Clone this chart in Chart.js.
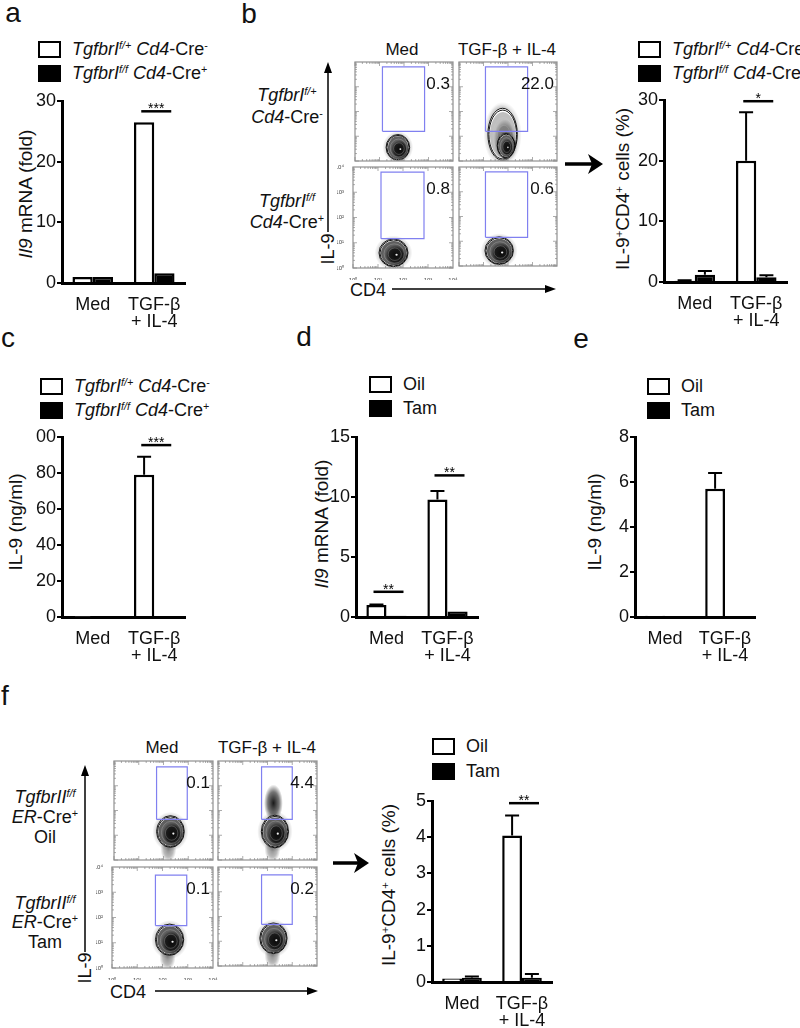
<!DOCTYPE html>
<html lang="en">
<head>
<meta charset="UTF-8">
<title>IL-9 and TGF-β receptor figure</title>
<script src="https://cdn.jsdelivr.net/npm/chart.js"></script>
<style>
  body { margin: 0; background: #fff; }
  #fig { position: relative; width: 800px; height: 1028px; overflow: hidden;
         font-family: "Liberation Sans", Arial, sans-serif; color: #111; }
  #fig canvas { position: absolute; }
  .t { position: absolute; white-space: nowrap; line-height: 1; font-size: 17px; }
  .t sup { font-size: .6em; position: relative; top: -.55em; vertical-align: baseline; line-height: 0; }
  .box { position: absolute; box-sizing: border-box; border: 2px solid #000; width: 23px; height: 17px; }
  svg { position: absolute; left: 0; top: 0; }
</style>
</head>
<body>
<div id="fig">
  <svg width="800" height="1028">
    <g stroke="#000" fill="none">
      <line x1="328" y1="232" x2="328" y2="70" stroke-width="1.5"/>
      <line x1="392" y1="289" x2="548" y2="289" stroke-width="1.5"/>
      <line x1="565" y1="164" x2="594" y2="164" stroke-width="3.5"/>
      <line x1="85" y1="952" x2="85" y2="773" stroke-width="1.5"/>
      <line x1="155" y1="991" x2="310" y2="991" stroke-width="1.5"/>
      <line x1="333" y1="863" x2="360" y2="863" stroke-width="3.5"/>
    </g>
    <g fill="#000">
      <polygon points="328,62 324,73 332,73"/>
      <polygon points="556,289 545,285 545,293"/>
      <polygon points="603,164 588,154 592,164 588,174"/>
      <polygon points="85,765 81,776 89,776"/>
      <polygon points="318,991 307,987 307,995"/>
      <polygon points="369,863 354,853 358,863 354,873"/>
    </g>
  </svg>
</div>
<script>
  Chart.defaults.font.family = '"Liberation Sans", Arial, sans-serif';
  Chart.defaults.color = '#111';

  // ---------- bar chart data ----------
  const groups = ['Med', ['TGF-β', '+ IL-4']];

  // a: Il9 mRNA (fold)
  const aCtrl = [1.0, 26.5];
  const aKO = [1.0, 1.6];
  const aTicks = [0, 10, 20, 30];
  const aSig = [[1, 28.3, '***']];

  // b: IL-9+CD4+ cells (%)
  const bCtrl = [0.2, 20.0];
  const bKO = [1.2, 0.8];
  const bCtrlErr = [0.3, 28.0];
  const bKOErr = [1.8, 1.1];
  const bTicks = [0, 10, 20, 30];
  const bSig = [[1, 29.8, '*']];

  // c: IL-9 (ng/ml)
  const cCtrl = [0.3, 79];
  const cKO = [0.3, 0.3];
  const cCtrlErr = [null, 89];
  const cTicks = [0, 20, 40, 60, 80, 100];
  const cTickText = ['0', '20', '40', '60', '80', '00'];
  const cSig = [[1, 95.5, '***']];

  // d: Il9 mRNA (fold), oil vs tamoxifen
  const dOil = [1.0, 9.8];
  const dTam = [0.1, 0.45];
  const dOilErr = [1.05, 10.5];
  const dTicks = [0, 5, 10, 15];
  const dSig = [[0, 2.1, '**'], [1, 11.8, '**']];

  // e: IL-9 (ng/ml), oil vs tamoxifen
  const eOil = [0.06, 5.7];
  const eTam = [0.02, 0.02];
  const eOilErr = [null, 6.4];
  const eTicks = [0, 2, 4, 6, 8];

  // f: IL-9+CD4+ cells (%), oil vs tamoxifen
  const fOil = [0.1, 4.05];
  const fTam = [0.12, 0.12];
  const fOilErr = [null, 4.6];
  const fTamErr = [0.15, 0.22];
  const fTicks = [0, 1, 2, 3, 4, 5];
  const fSig = [[1, 4.94, '**']];

  // ---------- flow plot data (log10 units) ----------
  const decades = [0, 1, 2, 3, 4];
  const decadeText = ['10⁰', '10¹', '10²', '10³', '10⁴'];
  // gate: [CD4 from, CD4 to, IL-9 from, IL-9 to]
  // population: [CD4 centre, IL-9 centre, CD4 spread, IL-9 spread, kind, shade]
  const bGate = [[1.12, 2.84, 1.2, 3.8], [1.08, 2.8, 1.2, 3.8], [1.12, 2.84, 1.16, 3.8], [1.08, 2.8, 1.16, 3.8]];
  const bPct = ['0.3', '22.0', '0.8', '0.6'];
  const bPops = [
    [[1.75, 0.55, 0.48, 0.52, 'c', 1]],
    [[1.72, 1.5, 0.55, 0.8, 'h', 0.3], [1.78, 1.08, 0.6, 1.05, 'c', 0.4], [1.92, 0.62, 0.36, 0.5, 'c', 1]],
    [[1.62, 0.6, 0.58, 0.55, 'c', 1]],
    [[1.64, 0.62, 0.58, 0.56, 'c', 1]]
  ];
  const fGate = [[1.72, 2.96, 1.64, 3.76], [1.76, 3.0, 1.64, 3.76], [1.72, 2.96, 1.68, 3.68], [1.76, 3.0, 1.68, 3.68]];
  const fPct = ['0.1', '4.4', '0.1', '0.2'];
  const fPops = [
    [[2.2, 0.45, 0.32, 0.55, 'h', 0.45], [2.28, 1.15, 0.56, 0.64, 'c', 1]],
    [[2.24, 2.3, 0.38, 0.75, 'h', 0.9], [2.2, 0.45, 0.32, 0.55, 'h', 0.45], [2.3, 1.15, 0.55, 0.66, 'c', 1]],
    [[2.2, 0.45, 0.32, 0.55, 'h', 0.45], [2.28, 1.12, 0.56, 0.62, 'c', 1]],
    [[2.2, 0.45, 0.32, 0.55, 'h', 0.45], [2.24, 1.12, 0.55, 0.62, 'c', 1]]
  ];

  const fig = document.getElementById('fig');

  function addCanvas(x, y, w, h) {
    const cv = document.createElement('canvas');
    cv.width = w; cv.height = h;
    cv.style.left = x + 'px'; cv.style.top = y + 'px';
    fig.appendChild(cv);
    return cv;
  }

  function put(html, x, y, opt) {
    opt = opt || {};
    const d = document.createElement('div');
    d.className = 't';
    d.innerHTML = html;
    d.style.left = x + 'px'; d.style.top = y + 'px';
    if (opt.size) d.style.fontSize = opt.size + 'px';
    if (opt.rot) d.style.transform = 'translate(-50%,-50%) rotate(-90deg)';
    else if (opt.left) d.style.transform = 'translate(0,-50%)';
    else d.style.transform = 'translate(-50%,-50%)';
    fig.appendChild(d);
  }

  function legend(x, y1, y2, textW, textB) {
    [[y1, '#fff', textW], [y2, '#000', textB]].forEach(([y, bg, txt]) => {
      const b = document.createElement('div');
      b.className = 'box';
      b.style.left = x + 'px'; b.style.top = (y - 8) + 'px'; b.style.background = bg;
      fig.appendChild(b);
      put(txt, x + 34, y, { left: true, size: 18 });
    });
  }

  // error bars and significance lines
  function barExtras(errs, sig) {
    return {
      id: 'barExtras',
      afterDatasetsDraw(chart) {
        const ctx = chart.ctx, ys = chart.scales.y, xs = chart.scales.x;
        ctx.save();
        ctx.strokeStyle = '#000'; ctx.lineWidth = 2;
        errs.forEach((arr, di) => {
          const meta = chart.getDatasetMeta(di);
          arr.forEach((v, j) => {
            if (v == null) return;
            const bar = meta.data[j];
            const top = ys.getPixelForValue(v);
            ctx.beginPath();
            ctx.moveTo(bar.x, bar.y); ctx.lineTo(bar.x, top);
            ctx.moveTo(bar.x - 7, top); ctx.lineTo(bar.x + 7, top);
            ctx.stroke();
          });
        });
        ctx.fillStyle = '#000';
        ctx.font = '14px "Liberation Sans", Arial, sans-serif';
        ctx.textAlign = 'center'; ctx.textBaseline = 'alphabetic';
        ctx.lineWidth = 2.5;
        sig.forEach(([cat, v, txt]) => {
          const x = xs.getPixelForValue(cat), y = ys.getPixelForValue(v);
          ctx.beginPath(); ctx.moveTo(x - 13, y); ctx.lineTo(x + 17, y); ctx.stroke();
          ctx.fillText(txt, x + 2, y + 2);
        });
        ctx.restore();
      }
    };
  }

  function barChart(area, series, errs, ticks, tickText, sig) {
    const YW = 46, XH = 46, PT = 14, PR = 16;
    const cv = addCanvas(area.x - YW, area.y - PT, YW + area.w + PR, PT + area.h + XH);
    new Chart(cv, {
      type: 'bar',
      data: {
        labels: groups,
        datasets: series.map((v, i) => ({
          data: v,
          backgroundColor: i ? '#000' : '#fff',
          borderColor: '#000',
          borderWidth: 2.5,
          barPercentage: 1,
          categoryPercentage: 0.66
        }))
      },
      options: {
        responsive: false,
        animation: false,
        events: [],
        layout: { padding: { top: PT, right: PR, left: 0, bottom: 0 } },
        plugins: { legend: { display: false }, tooltip: { enabled: false } },
        scales: {
          x: {
            grid: { display: false },
            border: { color: '#000', width: 3 },
            ticks: { font: { size: 18, lineHeight: 0.95 }, color: '#111', padding: 5, maxRotation: 0, autoSkip: false },
            afterFit: s => { s.height = XH; }
          },
          y: {
            min: 0,
            max: ticks[ticks.length - 1],
            afterBuildTicks: s => { s.ticks = ticks.map(v => ({ value: v })); },
            grid: { drawOnChartArea: false, tickLength: 5, color: '#000', lineWidth: 2 },
            border: { color: '#000', width: 3 },
            ticks: { font: { size: 18 }, color: '#111', padding: 1,
                     callback: (v, i) => tickText ? tickText[i] : String(v) },
            afterFit: s => { s.width = YW; }
          }
        }
      },
      plugins: [barExtras(errs, sig)]
    });
  }

  function ell(ctx, cx, cy, rx, ry) {
    ctx.beginPath();
    ctx.ellipse(cx, cy, Math.max(rx, 0.5), Math.max(ry, 0.5), 0, 0, Math.PI * 2);
  }

  function radial(ctx, px, py, rx, ry, stops) {
    ctx.save();
    ctx.translate(px, py); ctx.scale(rx, ry);
    const g = ctx.createRadialGradient(0, 0, 0, 0, 0, 1);
    stops.forEach(([o, c]) => g.addColorStop(o, c));
    ctx.fillStyle = g;
    ctx.beginPath(); ctx.arc(0, 0, 1, 0, Math.PI * 2); ctx.fill();
    ctx.restore();
  }

  function drawPop(ctx, xs, ys, p) {
    const [cx, cy, sx, sy, kind, shade] = p;
    const px = xs.getPixelForValue(cx), py = ys.getPixelForValue(cy);
    const rx = xs.getPixelForValue(cx + sx) - px;
    const ry = py - ys.getPixelForValue(cy + sy);
    if (kind === 'h') {
      radial(ctx, px, py, rx, ry, [[0, 'rgba(0,0,0,' + shade + ')'], [0.6, 'rgba(0,0,0,' + shade * 0.6 + ')'], [1, 'rgba(0,0,0,0)']]);
      return;
    }
    const ring = f => ell(ctx, px + (1 - f) * rx * 0.16, py + (1 - f) * ry * 0.18, rx * f, ry * f);
    // scattered events outside the outer contour
    radial(ctx, px, py, rx * 1.3, ry * 1.25, [[0.6, 'rgba(0,0,0,0.3)'], [1, 'rgba(0,0,0,0)']]);
    ctx.fillStyle = '#fff';
    ring(1); ctx.fill();
    // grey body and dense core
    ctx.fillStyle = 'rgba(95,95,95,' + shade + ')';
    ring(0.88); ctx.fill();
    const ox = px + rx * 0.16, oy = py + ry * 0.18;
    radial(ctx, ox, oy, rx * 0.75, ry * 0.75, [[0, 'rgba(10,10,10,' + shade + ')'], [0.65, 'rgba(20,20,20,' + shade * 0.9 + ')'], [1, 'rgba(40,40,40,0)']]);
    // contour lines
    ctx.strokeStyle = '#000'; ctx.lineWidth = 0.9;
    [1, 0.94].forEach(f => { ring(f); ctx.stroke(); });
    ctx.strokeStyle = 'rgba(210,210,210,' + (0.25 * shade + 0.2) + ')'; ctx.lineWidth = 0.6;
    [0.7, 0.45].forEach(f => { ring(f); ctx.stroke(); });
    if (shade > 0.8) {
      ctx.fillStyle = '#f4f4f4';
      ell(ctx, ox + rx * 0.05, oy - ry * 0.05, rx * 0.08, ry * 0.07); ctx.fill();
    }
  }

  function flowExtras(pops, pct) {
    return {
      id: 'flowExtras',
      beforeDatasetsDraw(chart) {
        const { ctx, chartArea: a, scales: { x, y } } = chart;
        ctx.save();
        ctx.beginPath(); ctx.rect(a.left, a.top, a.right - a.left, a.bottom - a.top); ctx.clip();
        pops.forEach(p => drawPop(ctx, x, y, p));
        ctx.restore();
      },
      afterDraw(chart) {
        const { ctx, chartArea: a, scales: { x, y } } = chart;
        ctx.save();
        ctx.strokeStyle = '#999'; ctx.lineWidth = 1.3;
        ctx.strokeRect(a.left, a.top, a.right - a.left, a.bottom - a.top);
        ctx.strokeStyle = '#888'; ctx.lineWidth = 0.7;
        ctx.beginPath();
        decades.slice(0, -1).forEach(d => {
          for (let m = 1; m < 10; m++) {
            const v = d + Math.log10(m), len = m === 1 ? 4 : 2;
            const px = x.getPixelForValue(v), py = y.getPixelForValue(v);
            ctx.moveTo(px, a.bottom); ctx.lineTo(px, a.bottom - len);
            ctx.moveTo(px, a.top); ctx.lineTo(px, a.top + len);
            ctx.moveTo(a.left, py); ctx.lineTo(a.left + len, py);
            ctx.moveTo(a.right, py); ctx.lineTo(a.right - len, py);
          }
        });
        ctx.stroke();
        ctx.fillStyle = '#111';
        ctx.font = '17px "Liberation Sans", Arial, sans-serif';
        ctx.textAlign = 'right'; ctx.textBaseline = 'alphabetic';
        ctx.fillText(pct, a.right - 3, a.top + 27);
        ctx.restore();
      }
    };
  }

  function flowPlot(fx, fy, fw, fh, axes, gate, pops, pct) {
    const L = axes ? 16 : 2, B = axes ? 12 : 2, T = 6, R = 8;
    const cv = addCanvas(fx - L, fy - T, L + fw + R, T + fh + B);
    const box = [[gate[0], gate[2]], [gate[0], gate[3]], [gate[1], gate[3]], [gate[1], gate[2]], [gate[0], gate[2]]]
      .map(([x, y]) => ({ x, y }));
    const axis = (isX) => ({
      type: 'linear', min: 0, max: 4, display: axes,
      afterBuildTicks: s => { s.ticks = decades.map(v => ({ value: v })); },
      grid: { display: false },
      border: { display: false },
      ticks: { font: { size: 6 }, color: '#444', padding: 1, maxRotation: 0,
               callback: v => decadeText[v] },
      afterFit: s => { if (isX) s.height = B; else s.width = L; }
    });
    new Chart(cv, {
      type: 'scatter',
      data: { datasets: [{ data: box, showLine: true, borderColor: '#8080f0', borderWidth: 1.2, pointRadius: 0, fill: false }] },
      options: {
        responsive: false,
        animation: false,
        events: [],
        layout: { padding: { top: T, right: R, left: axes ? 0 : L, bottom: axes ? 0 : B } },
        plugins: { legend: { display: false }, tooltip: { enabled: false } },
        scales: { x: axis(true), y: axis(false) }
      },
      plugins: [flowExtras(pops, pct)]
    });
  }

  // ---------- panel letters ----------
  put('a', 13, 13, { size: 28 });
  put('b', 249, 14, { size: 28 });
  put('c', 8, 338, { size: 28 });
  put('d', 304, 337, { size: 28 });
  put('e', 581, 339, { size: 28 });
  put('f', 5, 696, { size: 28 });

  const ctrlLbl = '<i>TgfbrI<sup>f/+</sup> Cd4</i>-Cre<sup>-</sup>';
  const koLbl = '<i>TgfbrI<sup>f/f</sup> Cd4</i>-Cre<sup>+</sup>';
  const il9mrna = '<i>Il9</i> mRNA (fold)';
  const pctLbl = 'IL-9<sup>+</sup>CD4<sup>+</sup> cells (%)';
  const ttl = { rot: true, size: 19 };

  // ---------- a ----------
  legend(38, 49, 73, ctrlLbl, koLbl);
  put(il9mrna, 25, 194, ttl);
  barChart({ x: 62, y: 101, w: 123, h: 182 }, [aCtrl, aKO], [], aTicks, null, aSig);

  // ---------- b ----------
  put('Med', 402, 49);
  put('TGF-β + IL-4', 507, 49);
  put('<i>TgfbrI<sup>f/+</sup></i>', 287, 95, { size: 18 });
  put('<i>Cd4</i>-Cre<sup>-</sup>', 287, 117, { size: 18 });
  put('<i>TgfbrI<sup>f/f</sup></i>', 287, 201, { size: 18 });
  put('<i>Cd4</i>-Cre<sup>+</sup>', 287, 222, { size: 18 });
  put('IL-9', 328, 249, { rot: true, size: 18 });
  put('CD4', 368, 290, { size: 18 });
  flowPlot(353, 62, 100, 101, false, bGate[0], bPops[0], bPct[0]);
  flowPlot(457, 62, 100, 101, false, bGate[1], bPops[1], bPct[1]);
  flowPlot(353, 167, 100, 101, true, bGate[2], bPops[2], bPct[2]);
  flowPlot(457, 167, 100, 101, false, bGate[3], bPops[3], bPct[3]);
  legend(638, 49, 73, ctrlLbl, koLbl);
  put(pctLbl, 622, 189, ttl);
  barChart({ x: 664, y: 100, w: 123, h: 182 }, [bCtrl, bKO], [bCtrlErr, bKOErr], bTicks, null, bSig);

  // ---------- c ----------
  legend(40, 386, 410, ctrlLbl, koLbl);
  put('IL-9 (ng/ml)', 15, 522, ttl);
  barChart({ x: 62, y: 437, w: 123, h: 180 }, [cCtrl, cKO], [cCtrlErr], cTicks, cTickText, cSig);

  // ---------- d ----------
  legend(369, 384, 408, 'Oil', 'Tam');
  put(il9mrna, 321, 524, ttl);
  barChart({ x: 356, y: 437, w: 122, h: 180 }, [dOil, dTam], [dOilErr], dTicks, null, dSig);

  // ---------- e ----------
  legend(647, 386, 410, 'Oil', 'Tam');
  put('IL-9 (ng/ml)', 594, 522, ttl);
  barChart({ x: 635, y: 437, w: 120, h: 180 }, [eOil, eTam], [eOilErr], eTicks, null, []);

  // ---------- f ----------
  put('Med', 162, 747);
  put('TGF-β + IL-4', 267, 747);
  put('<i>TgfbrII<sup>f/f</sup></i>', 45, 797, { size: 18 });
  put('<i>ER</i>-Cre<sup>+</sup>', 45, 817, { size: 18 });
  put('Oil', 45, 837, { size: 18 });
  put('<i>TgfbrII<sup>f/f</sup></i>', 45, 903, { size: 18 });
  put('<i>ER</i>-Cre<sup>+</sup>', 45, 922, { size: 18 });
  put('Tam', 45, 942, { size: 18 });
  put('IL-9', 85, 968, { rot: true, size: 18 });
  put('CD4', 128, 992, { size: 18 });
  flowPlot(112, 761, 101, 101, false, fGate[0], fPops[0], fPct[0]);
  flowPlot(216, 761, 101, 101, false, fGate[1], fPops[1], fPct[1]);
  flowPlot(112, 867, 101, 101, true, fGate[2], fPops[2], fPct[2]);
  flowPlot(216, 867, 101, 101, false, fGate[3], fPops[3], fPct[3]);
  legend(432, 746, 771, 'Oil', 'Tam');
  put(pctLbl, 388, 885, ttl);
  barChart({ x: 432, y: 801, w: 120, h: 181 }, [fOil, fTam], [fOilErr, fTamErr], fTicks, null, fSig);
</script>
</body>
</html>
